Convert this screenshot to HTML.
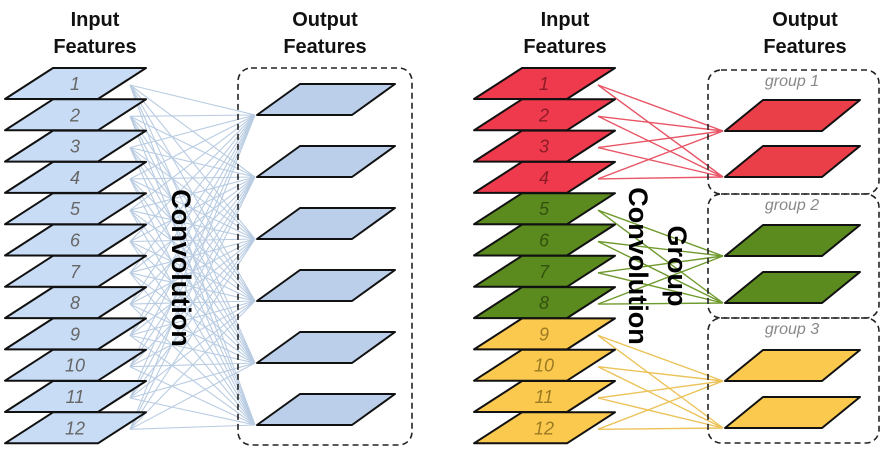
<!DOCTYPE html>
<html><head><meta charset="utf-8"><style>
html,body{margin:0;padding:0;background:#fff;width:886px;height:455px;overflow:hidden}
svg{display:block}
.h{font-family:"Liberation Sans",sans-serif;font-weight:bold;font-size:20px;fill:#111;text-anchor:middle}
.n{font-family:"Liberation Sans",sans-serif;font-style:italic;font-size:18px;text-anchor:middle}
.g{font-family:"Liberation Sans",sans-serif;font-style:italic;font-size:16px;fill:#888;text-anchor:middle}
.c{font-family:"Liberation Sans",sans-serif;font-weight:bold;font-size:27px;fill:#000;text-anchor:middle}
</style></head><body>
<svg id="s" width="886" height="455" xmlns="http://www.w3.org/2000/svg">
<text class="h" x="95" y="26">Input</text><text class="h" x="95" y="53">Features</text>
<text class="h" x="325" y="26">Output</text><text class="h" x="325" y="53">Features</text>
<text class="h" x="565" y="26">Input</text><text class="h" x="565" y="53">Features</text>
<text class="h" x="805" y="26">Output</text><text class="h" x="805" y="53">Features</text>
<g id="lines"></g>
<rect x="238" y="68" width="174" height="377" rx="13" fill="none" stroke="#222" stroke-width="1.6" stroke-dasharray="6,4"/>
<rect x="708" y="70" width="171" height="124" rx="13" fill="none" stroke="#222" stroke-width="1.6" stroke-dasharray="6,4"/>
<rect x="708" y="194" width="171" height="124" rx="13" fill="none" stroke="#222" stroke-width="1.6" stroke-dasharray="6,4"/>
<rect x="708" y="318" width="171" height="125" rx="13" fill="none" stroke="#222" stroke-width="1.6" stroke-dasharray="6,4"/>
<text class="g" x="792" y="86">group 1</text>
<text class="g" x="792" y="210">group 2</text>
<text class="g" x="792" y="334">group 3</text>
<g id="shapes"></g>
<text class="c" transform="translate(181,268) rotate(90)" y="9">Convolution</text>
<text class="c" transform="translate(659,266) rotate(90)"><tspan x="0" y="30">Convolution</tspan><tspan x="0" y="-9">Group</tspan></text>
</svg>
<script>
var NS="http://www.w3.org/2000/svg",L=document.getElementById("lines"),S=document.getElementById("shapes");
function el(p,t,a){var e=document.createElementNS(NS,t);for(var k in a)e.setAttribute(k,a[k]);p.appendChild(e);return e;}
function para(dx,by,fill,bw,sk,w){var b=by,t=by-31;
 el(S,"polygon",{points:(dx+sk)+","+t+" "+(dx+sk+w)+","+t+" "+(dx+w)+","+b+" "+dx+","+b,fill:fill,stroke:"#111","stroke-width":2,"stroke-linejoin":"round"});}
var P=31.3;
var outL=[115,177,239,301,363,425];
for(var i=0;i<12;i++){var y=85+i*P;for(var j=0;j<6;j++)el(L,"line",{x1:130,y1:y,x2:255,y2:outL[j],stroke:"#b9cce2","stroke-width":1.1});}
var cols=["#e85566","#6f9a2e","#ecc35a"],outR=[[131,177],[256,303],[381,428]];
for(var g=0;g<3;g++)for(var k=0;k<4;k++){var y=85+(g*4+k)*P;for(var j=0;j<2;j++)el(L,"line",{x1:598,y1:y,x2:723,y2:outR[g][j],stroke:cols[g],"stroke-width":1.4});}
var fills=["#ee3a4c","#5b8a1e","#fbc94e"],tc=["#8e1c26","#34520f","#9c7a22"];
for(var i=0;i<12;i++){var by=99+i*P;
 para(5,by,"#c8dcf6",2,48,93);
 var t=el(S,"text",{class:"n",x:75,y:by-9,fill:"#666"});t.textContent=i+1;
 var g=Math.floor(i/4);
 para(474,by,fills[g],2,48,93);
 t=el(S,"text",{class:"n",x:544,y:by-9,fill:tc[g]});t.textContent=i+1;}
for(var j=0;j<6;j++)para(257,outL[j],"#bccfea",2,43,95);
var of=["#ea3e48","#5b8a1e","#fbc94e"];
for(var g=0;g<3;g++)for(var j=0;j<2;j++)para(725,outR[g][j],of[g],2,38,97);
</script>
</body></html>
